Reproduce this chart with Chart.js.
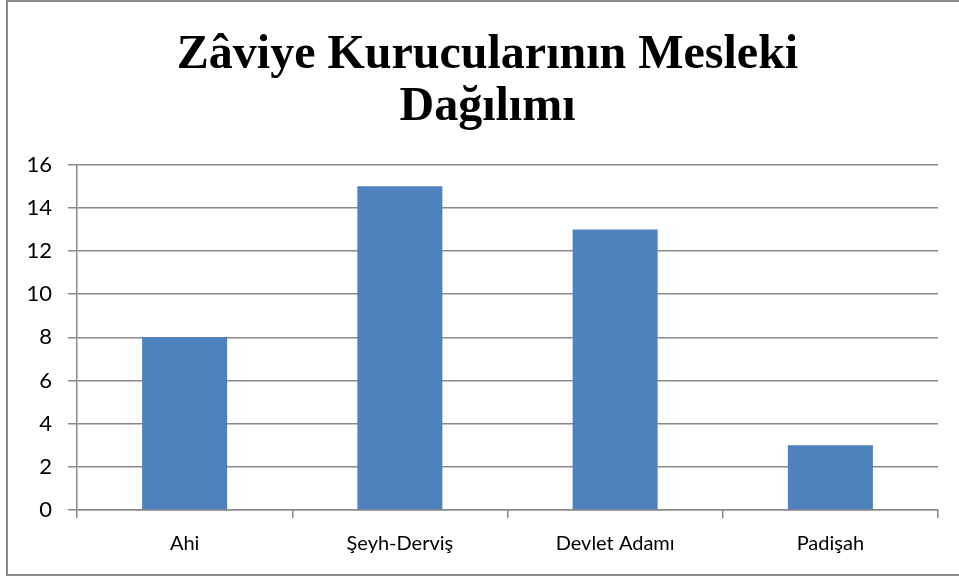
<!DOCTYPE html>
<html>
<head>
<meta charset="utf-8">
<script src="https://cdn.jsdelivr.net/npm/chart.js@4/dist/chart.umd.min.js"></script>
<style>
  html, body { margin: 0; padding: 0; background: #ffffff; }
  #wrap { position: relative; width: 959px; height: 579px; overflow: hidden; }
  #frame { position: absolute; left: 6px; top: 0px; width: 960px; height: 576px; border: 2px solid #8a8a8a; box-sizing: border-box; pointer-events: none; }
  canvas { position: absolute; left: 0; top: 0; }
</style>
</head>
<body>
<div id="wrap">
  <canvas id="c" width="959" height="579"></canvas>
  <div id="frame"></div>
</div>
<script>
const titleLines = ["Zâviye Kurucularının Mesleki", "Dağılımı"];
const categories = ["Ahi", "Şeyh-Derviş", "Devlet Adamı", "Padişah"];
const values = [8, 15, 13, 3];
const yMin = 0, yMax = 16, yStep = 2;

const gridColor = "#898989";
const xFont = { family: "Lato, 'Open Sans', sans-serif", size: 20 };
const yFont = { family: "Lato, 'Open Sans', sans-serif", size: 22 };

// Center the title over the framed area rather than over the padded box
const titleShift = {
  id: "titleShift",
  afterLayout(chart) {
    const t = chart.titleBlock;
    if (t) { t.left = 16; t.right = 959; }
  }
};

new Chart(document.getElementById("c"), {
  type: "bar",
  data: {
    labels: categories,
    datasets: [{
      data: values,
      backgroundColor: "#4F81BD",
      borderWidth: 0,
      categoryPercentage: 1.0,
      barPercentage: 0.395
    }]
  },
  plugins: [titleShift],
  options: {
    responsive: false,
    animation: false,
    devicePixelRatio: 1,
    layout: { padding: { left: 0, right: 21, top: 0, bottom: 0 } },
    plugins: {
      legend: { display: false },
      tooltip: { enabled: false },
      title: {
        display: true,
        text: titleLines,
        color: "#000000",
        font: { family: "'Liberation Serif', 'Times New Roman', serif", size: 48, weight: "bold", lineHeight: 1.08 },
        padding: { top: 30, bottom: 31 }
      }
    },
    scales: {
      x: {
        type: "category",
        offset: true,
        grid: { display: true, drawOnChartArea: false, drawTicks: true, offset: true, tickLength: 8, color: gridColor, lineWidth: 1.5 },
        border: { display: true, color: gridColor, width: 1.5 },
        ticks: { color: "#000000", font: xFont, padding: 14, maxRotation: 0 },
        afterFit: (s) => { s.height = 69; }
      },
      y: {
        min: yMin,
        max: yMax,
        ticks: { stepSize: yStep, color: "#000000", font: yFont, padding: 16 },
        grid: { color: gridColor, lineWidth: 1.5, tickLength: 9, drawTicks: true },
        border: { display: true, color: gridColor, width: 1.5 },
        afterFit: (s) => { s.width = 77; }
      }
    }
  }
});
</script>
</body>
</html>
